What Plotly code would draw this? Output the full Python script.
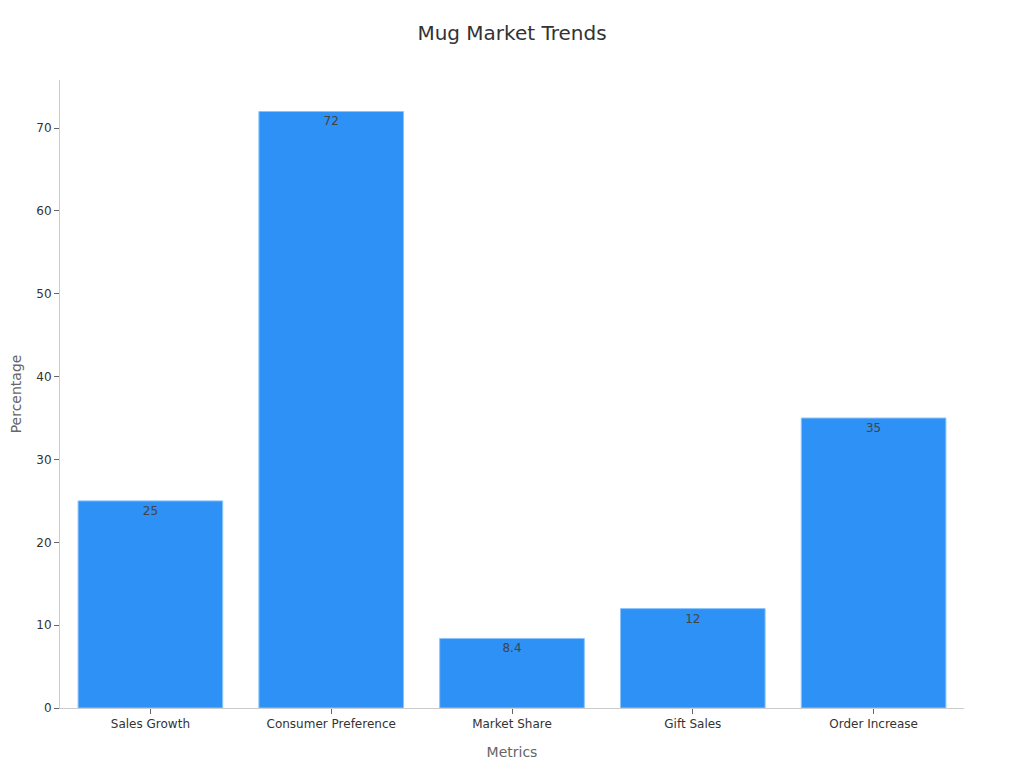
import plotly.graph_objects as go

categories = ["Sales Growth", "Consumer Preference", "Market Share", "Gift Sales", "Order Increase"]
values = [25, 72, 8.4, 12, 35]
labels = ["25", "72", "8.4", "12", "35"]

fig = go.Figure(go.Bar(
    x=categories, y=values, text=labels,
    textposition="inside", insidetextanchor="end",
    textfont=dict(family="DejaVu Sans", size=12, color="#444444"),
    marker=dict(color="#2E91F6", line=dict(color="#8CC4FA", width=1)),
))
fig.update_layout(
    width=1016, height=760,
    margin=dict(l=52, r=60, t=72, b=60),
    paper_bgcolor="white", plot_bgcolor="white",
    font=dict(family="DejaVu Sans", size=12, color="#333333"),
    title=dict(text="Mug Market Trends", x=0.5, xref="paper", xanchor="center", y=0.967, yanchor="middle",
               font=dict(size=20, color="#333333")),
    bargap=0.2,
    showlegend=False,
    xaxis=dict(title=dict(text="Metrics", font=dict(size=14, color="#666666"), standoff=16),
               automargin=False,
               showline=True, linecolor="#cccccc", linewidth=1, ticks="outside", ticklen=5,
               tickcolor="#666666", showgrid=False, tickfont=dict(size=12, color="#333333")),
    yaxis=dict(title=dict(text="Percentage", font=dict(size=14, color="#666666"), standoff=18),
               automargin=False,
               range=[0, 75.8], dtick=10,
               showline=True, linecolor="#cccccc", linewidth=1, ticks="outside", ticklen=5,
               tickcolor="#666666", showgrid=False, zeroline=False, tickfont=dict(size=12, color="#333333")),
)
fig.write_html("out.html")
